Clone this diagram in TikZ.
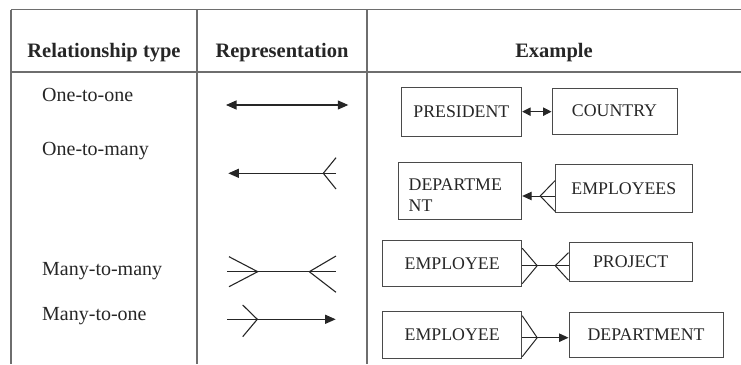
\documentclass[tikz,border=0pt]{standalone}
\usepackage{fontspec}
\setmainfont{Liberation Serif}
\usetikzlibrary{arrows.meta,calc}
\definecolor{rule}{HTML}{6E6E6E}
\definecolor{ink}{HTML}{262626}
\definecolor{frame}{HTML}{4A4A4A}
\tikzset{
  grid/.style={draw=rule, line width=1.2pt},
  head/.style={font=\fontsize{20.5}{24}\selectfont\bfseries, text=ink, anchor=base, inner sep=0pt},
  kind/.style={font=\fontsize{20}{24}\selectfont, text=ink, anchor=base west, inner sep=0pt},
  ebox/.style={draw=frame, line width=1pt, font=\fontsize{17.8}{21}\selectfont, text=ink, inner sep=0pt},
  etext/.style={font=\fontsize{17.8}{21}\selectfont, text=ink, inner sep=0pt, align=left},
  link/.style={draw=ink, line width=1.1pt},
  bigtip/.style={-{Triangle[length=10.5pt,width=9pt]}},
  bigtips/.style={{Triangle[length=10.5pt,width=9pt]}-{Triangle[length=10.5pt,width=9pt]}},
  smalltips/.style={{Triangle[length=8.5pt,width=8.5pt]}-{Triangle[length=8.5pt,width=8.5pt]}},
}
\begin{document}
\begin{tikzpicture}[x=1pt,y=-1pt]
\useasboundingbox (0,0) rectangle (741,364);

% table rules
\draw[grid] (11,9.5) -- (741,9.5);
\draw[grid] (11,72) -- (741,72);
\draw[grid] (11,9.5) -- (11,364);
\draw[grid] (197,9.5) -- (197,364);
\draw[grid] (367,9.5) -- (367,364);

% header
\node[head] (h1) at (104,57) {Relationship type};
\node[head] (h2) at (282,57) {Representation};
\node[head] (h3) at (554,57) {Example};

% relationship names
\node[kind] (t1) at (42,101) {One-to-one};
\node[kind] (t2) at (42,155) {One-to-many};
\node[kind] (t3) at (42,275) {Many-to-many};
\node[kind] (t4) at (42,320.7) {Many-to-one};

% notation column
\coordinate (r1a) at (226,105);
\coordinate (r1b) at (348.3,105);
\draw[link,bigtips] (r1a) -- (r1b);

\coordinate (r2a) at (228.3,173.3);
\coordinate (r2b) at (336,173.3);
\coordinate (r2f) at (323.3,173.3);
\draw[link,bigtip] (r2b) -- (r2a);
\draw[link] ($(r2f)+(12.7,-15.6)$) -- (r2f) -- ($(r2f)+(12.7,15.7)$);

\coordinate (r3a) at (227.3,271.7);
\coordinate (r3b) at (336,271.7);
\coordinate (r3l) at (257.7,271.7);
\coordinate (r3r) at (309.3,271.7);
\draw[link] (r3a) -- (r3b);
\draw[link] ($(r3l)+(-28.7,-15)$) -- (r3l) -- ($(r3l)+(-28.7,15)$);
\draw[link] ($(r3r)+(26.7,-15.7)$) -- (r3r) -- ($(r3r)+(26.7,20.6)$);

\coordinate (r4a) at (227.3,319.3);
\coordinate (r4b) at (335.7,319.3);
\coordinate (r4f) at (257.3,319.3);
\draw[link,bigtip] (r4a) -- (r4b);
\draw[link] ($(r4f)+(-14.6,-14.3)$) -- (r4f) -- ($(r4f)+(-14.6,17.4)$);

% examples
\node[ebox, minimum width=120.7pt, minimum height=48.7pt] (pres) at (461.35,111.65) {PRESIDENT};
\node[ebox, minimum width=125pt, minimum height=46pt] (ctry) at (614.5,111) {COUNTRY};
\draw[link,smalltips,line width=1pt] (pres.east) -- (pres.east -| ctry.west);

\node[ebox, minimum width=123.7pt, minimum height=56.3pt] (dpta) at (459.85,190.85) {};
\node[etext, anchor=north west] (dptatext) at ($(dpta.west |- 0,178.2)+(11,0)$) {DEPARTME\\NT};
\node[ebox, minimum width=136.3pt, minimum height=47.3pt] (emps) at (623.85,188.35) {EMPLOYEES};
\coordinate (k2) at (540,196);
\draw[link,line width=1pt,{Triangle[length=9.5pt,width=8.5pt]}-] (dpta.east |- k2) -- (emps.west |- k2);
\draw[link,line width=1pt] ($(emps.west |- k2)+(0,-15.5)$) -- ($(emps.west |- k2)+(-15,0)$) -- ($(emps.west |- k2)+(0,15.5)$);

\node[ebox, minimum width=139pt, minimum height=46.7pt] (emp1) at (452.2,263.35) {EMPLOYEE};
\node[ebox, minimum width=123.3pt, minimum height=38.3pt] (proj) at (630.65,261.85) {PROJECT};
\coordinate (k3) at (545,265.7);
\draw[link,line width=1pt] (emp1.east |- k3) -- (proj.west |- k3);
\draw[link,line width=1pt] ($(emp1.east |- k3)+(0,-17.5)$) -- ($(emp1.east |- k3)+(15,0)$) -- ($(emp1.east |- k3)+(0,18)$);
\draw[link,line width=1pt] ($(proj.west |- k3)+(0,-13)$) -- ($(proj.west |- k3)+(-13.3,0)$) -- ($(proj.west |- k3)+(0,14.5)$);

\node[ebox, minimum width=139pt, minimum height=47.3pt] (emp2) at (452.2,334.65) {EMPLOYEE};
\node[ebox, minimum width=154pt, minimum height=45pt] (dptb) at (646,334.5) {DEPARTMENT};
\coordinate (k4) at (545,337.7);
\draw[link,line width=1pt,{Triangle[length=9.5pt,width=8.5pt]}-] (dptb.west |- k4) -- (emp2.east |- k4);
\draw[link,line width=1pt] ($(emp2.east |- k4)+(0,-22)$) -- ($(emp2.east |- k4)+(15,0)$) -- ($(emp2.east |- k4)+(0,19)$);
\end{tikzpicture}
\end{document}
